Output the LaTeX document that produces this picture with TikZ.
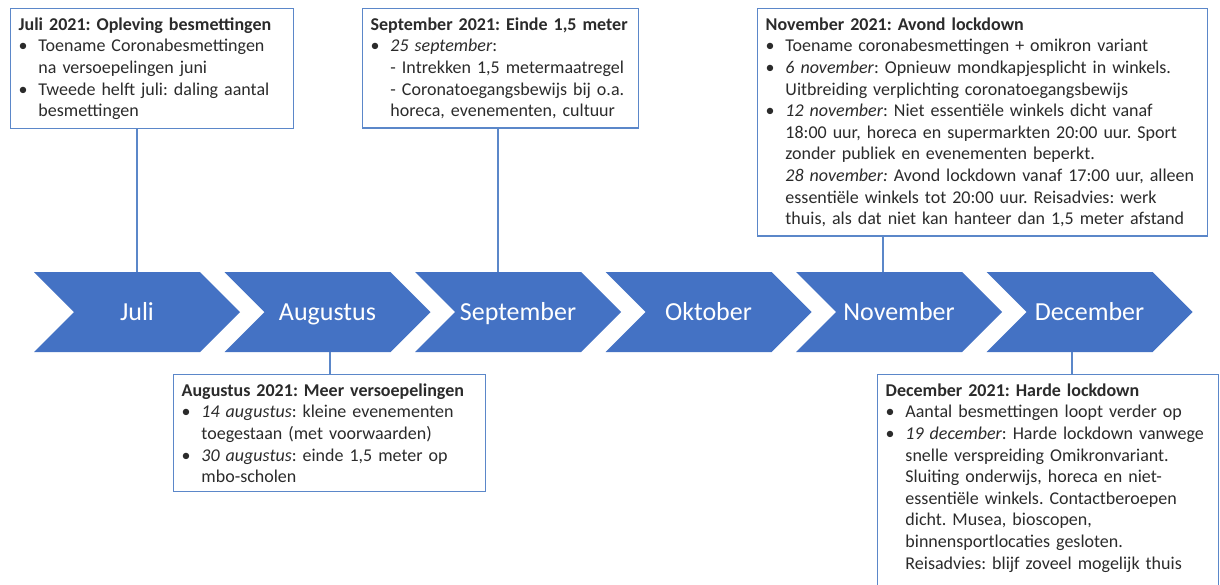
\documentclass[tikz,border=0pt]{standalone}
\usepackage{fontspec}
\setmainfont{Carlito}
\usetikzlibrary{shapes.symbols}
\definecolor{timeblue}{HTML}{4472C4}
\definecolor{boxline}{HTML}{5B87C9}
\definecolor{boxtext}{HTML}{2B2B2B}
\newcommand{\bul}{\makebox[1.1em][l]{\textbullet}}
\newcommand{\ind}{\hspace*{1.1em}}
\frenchspacing

\tikzset{
	month/.style={signal, signal to=east, signal from=west, signal pointer angle=90,
		fill=timeblue, draw=none, minimum width=206pt, minimum height=80pt,
		inner sep=0pt, text=white, text height=21pt, text depth=5pt,
		font=\fontsize{26}{30}\selectfont},
	infobox/.style={draw=boxline, line width=1.3pt, fill=white, anchor=north west,
		align=left, text=boxtext, inner xsep=8pt, inner ysep=9pt,
		font=\fontsize{18}{21.6}\selectfont},
	link/.style={draw=boxline, line width=1.3pt}
}

\begin{document}
\begin{tikzpicture}[x=1pt, y=-1pt]
		%%%%% START %%%%%
		\clip (0, 0) rectangle (1220, 584);
		\fill[white] (0, 0) rectangle (1220, 584);
		
		\node[month] (juli) at (137, 312) {Juli};
		\node[month] (aug) at (327.5, 312) {Augustus};
		\node[month] (sept) at (518, 312) {September};
		\node[month] (okt) at (708.5, 312) {Oktober};
		\node[month] (nov) at (899, 312) {November};
		\node[month] (dec) at (1089.5, 312) {December};
		
		\node[infobox, text width=267pt] (juli-box) at (10, 8) {%
			\textbf{Juli 2021: Opleving besmettingen}\\
			\bul Toename Coronabesmettingen\\
			\ind na versoepelingen juni\\
			\bul Tweede helft juli: daling aantal\\
			\ind besmettingen};
		
		\node[infobox, text width=260pt] (sept-box) at (362, 8) {%
			\textbf{September 2021: Einde 1,5 meter}\\
			\bul \textit{25 september}:\\
			\ind - Intrekken 1,5 metermaatregel\\
			\ind - Coronatoegangsbewijs bij o.a.\\
			\ind horeca, evenementen, cultuur};
		
		\node[infobox, text width=434pt] (nov-box) at (757, 8) {%
			\textbf{November 2021: Avond lockdown}\\
			\bul Toename coronabesmettingen + omikron variant\\
			\bul \textit{6 november}: Opnieuw mondkapjesplicht in winkels.\\
			\ind Uitbreiding verplichting coronatoegangsbewijs\\
			\bul \textit{12 november}: Niet essentiële winkels dicht vanaf\\
			\ind 18:00 uur, horeca en supermarkten 20:00 uur. Sport\\
			\ind zonder publiek en evenementen beperkt.\\
			\ind \textit{28 november:} Avond lockdown vanaf 17:00 uur, alleen\\
			\ind essentiële winkels tot 20:00 uur. Reisadvies: werk\\
			\ind thuis, als dat niet kan hanteer dan 1,5 meter afstand};
		
		\node[infobox, text width=296pt] (aug-box) at (173, 374) {%
			\textbf{Augustus 2021: Meer versoepelingen}\\
			\bul \textit{14 augustus}: kleine evenementen\\
			\ind toegestaan (met voorwaarden)\\
			\bul \textit{30 augustus}: einde 1,5 meter op\\
			\ind mbo-scholen};
		
		\node[infobox, text width=325pt] (dec-box) at (877, 374) {%
			\textbf{December 2021: Harde lockdown}\\
			\bul Aantal besmettingen loopt verder op\\
			\bul \textit{19 december}: Harde lockdown vanwege\\
			\ind snelle verspreiding Omikronvariant.\\
			\ind Sluiting onderwijs, horeca en niet-\\
			\ind essentiële winkels. Contactberoepen\\
			\ind dicht. Musea, bioscopen,\\
			\ind binnensportlocaties gesloten.\\
			\ind Reisadvies: blijf zoveel mogelijk thuis\\
			\strut};
		
		\draw[link] (juli.north) -- (juli.north |- juli-box.south);
		\draw[link] ([xshift=-20pt]sept.north) -- ([xshift=-20pt]sept.north |- sept-box.south);
		\draw[link] ([xshift=-16pt]nov.north) -- ([xshift=-16pt]nov.north |- nov-box.south);
		\draw[link] ([xshift=2.5pt]aug.south) -- ([xshift=2.5pt]aug.south |- aug-box.north);
		\draw[link] ([xshift=-17.5pt]dec.south) -- ([xshift=-17.5pt]dec.south |- dec-box.north);
		%%%%% END %%%%%
\end{tikzpicture}
\end{document}
